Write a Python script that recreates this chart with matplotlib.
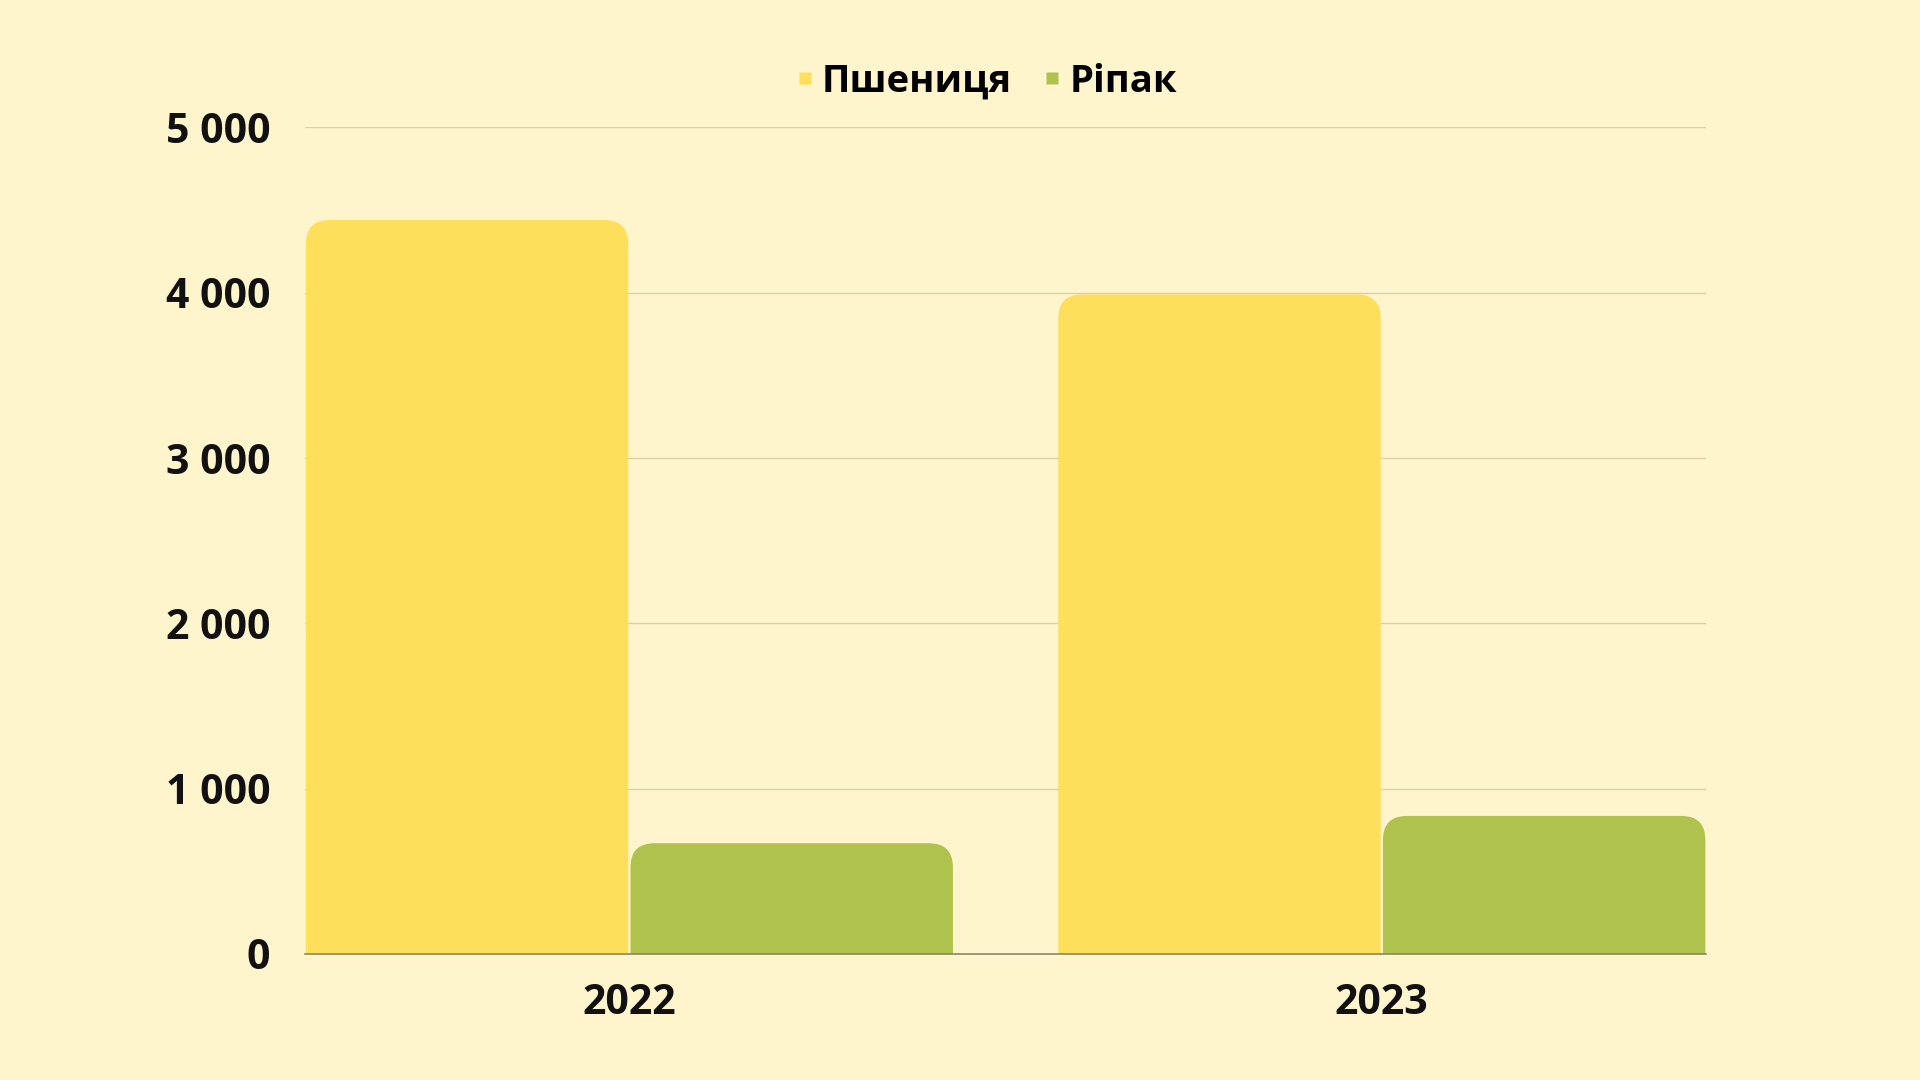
import matplotlib.pyplot as plt
from matplotlib.patches import FancyBboxPatch
from matplotlib.lines import Line2D
from matplotlib.ticker import FuncFormatter
import numpy as np

plt.rcParams['font.family'] = ['Open Sans', 'DejaVu Sans']

# дані
years = ["2022", "2023"]
series_names = ["Пшениця", "Ріпак"]
wheat = [4440, 3990]
rapeseed = [670, 835]
y_ticks = [0, 1000, 2000, 3000, 4000, 5000]

bg = "#FEF5CC"
colors = ["#FEDF5B", "#B0C24E"]

fig = plt.figure(figsize=(19.2, 10.8), dpi=100, facecolor=bg)
ax = fig.add_axes([0.1589, 0.1167, 0.7297, 0.7653])
ax.set_facecolor(bg)

x = np.arange(len(years))
w = 0.4285
gap = 0.0015

bars_w = ax.bar(x - w / 2 - gap, wheat, w, color=colors[0], zorder=2)
bars_r = ax.bar(x + w / 2 + gap, rapeseed, w, color=colors[1], zorder=2)

ax.set_xlim(-0.431, 1.431)
ax.set_ylim(0, 5000)

# закруглені верхні кути: заміняємо прямокутники
r_px = 24
fig.canvas.draw()
bb = ax.get_window_extent()
px_x = bb.width / (ax.get_xlim()[1] - ax.get_xlim()[0])
px_y = bb.height / (ax.get_ylim()[1] - ax.get_ylim()[0])
rx = r_px / px_x
ry = r_px / px_y
for b in list(bars_w) + list(bars_r):
    b.set_visible(False)
    p = FancyBboxPatch((b.get_x(), -ry), b.get_width(), b.get_height() + ry,
                       boxstyle=f"round,pad=0,rounding_size={rx}",
                       mutation_aspect=ry / rx,
                       facecolor=b.get_facecolor(), edgecolor="none", zorder=2)
    ax.add_patch(p)

ax.set_yticks(y_ticks)
ax.yaxis.set_major_formatter(FuncFormatter(lambda v, _: f"{int(v):,}".replace(",", " ")))
ax.set_xticks(x)
ax.set_xticklabels(years)

ax.grid(True, axis='y', color="#D9D0A6", linewidth=1.0, zorder=1)
ax.set_axisbelow(True)
for s in ["top", "right", "left"]:
    ax.spines[s].set_visible(False)
ax.spines["bottom"].set_color("#8A8768")
ax.spines["bottom"].set_linewidth(1.2)
ax.spines["bottom"].set_zorder(3)

ax.tick_params(axis='y', length=0, pad=25, labelsize=29.5, labelcolor="#111111")
ax.tick_params(axis='x', length=0, pad=21, labelsize=29.5, labelcolor="#111111")
for lbl in ax.get_xticklabels() + ax.get_yticklabels():
    lbl.set_fontweight("bold")

handles = [Line2D([], [], marker='s', linestyle='none', markersize=8.5,
                  markerfacecolor=c, markeredgecolor='none') for c in colors]
fig.legend(handles, series_names, loc='center', bbox_to_anchor=(0.5136, 0.9245),
           ncol=2, frameon=False, handlelength=0.5, handletextpad=0.2,
           columnspacing=0.8, prop={'size': 27.5, 'weight': 'bold'})

fig.savefig("out.png", dpi=100, facecolor=bg)
